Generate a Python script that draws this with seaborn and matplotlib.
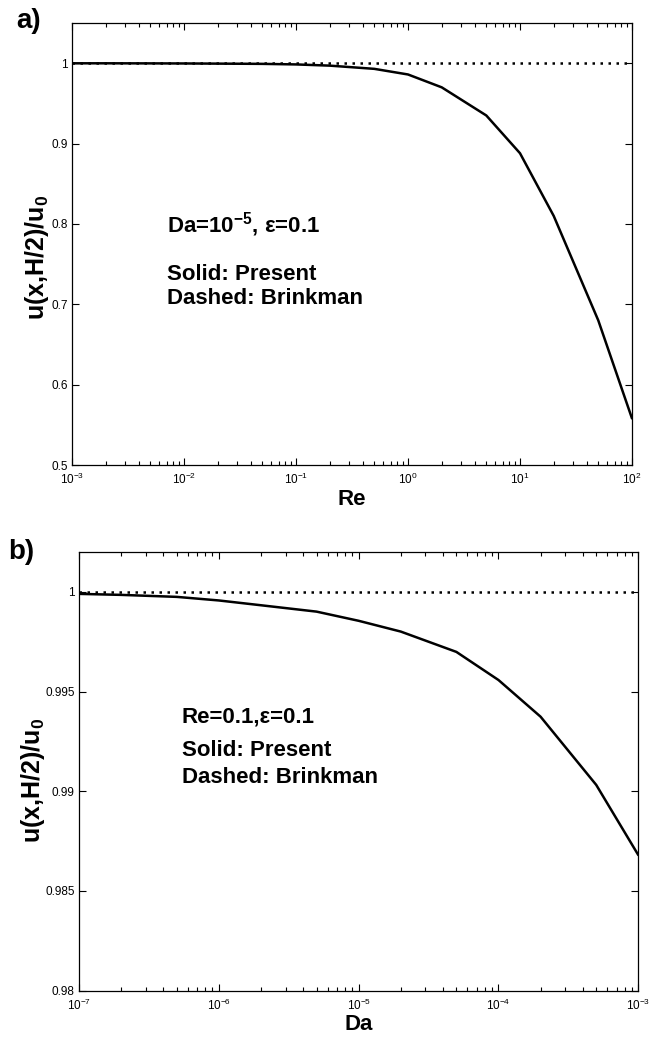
import numpy as np
import pandas as pd
import matplotlib
matplotlib.use("Agg")
import matplotlib.pyplot as plt
import matplotlib.ticker as mticker
import seaborn as sns

# ---------------- data ----------------
re_vals = [1e-3, 2e-3, 5e-3, 1e-2, 2e-2, 5e-2, 1e-1, 2e-1, 5e-1, 1, 2, 5, 10, 20, 50, 100]
u_present_a = [0.9999, 0.9999, 0.9998, 0.9997, 0.9995, 0.9992, 0.9985, 0.9970, 0.9930,
               0.9860, 0.9700, 0.9350, 0.8880, 0.8100, 0.6800, 0.5580]
u_brinkman_a = [1.0, 1.0, 1.0, 1.0, 1.0, 1.0, 1.0, 1.0, 1.0, 1.0, 1.0, 1.0, 1.0, 1.0, 1.0, 1.0]

da_vals = [1e-7, 2e-7, 5e-7, 1e-6, 2e-6, 5e-6, 1e-5, 2e-5, 5e-5, 1e-4, 2e-4, 5e-4, 1e-3]
u_present_b = [0.99990, 0.99985, 0.99975, 0.99957, 0.99933, 0.99901, 0.99855,
               0.99801, 0.99699, 0.99558, 0.99374, 0.99032, 0.98680]
u_brinkman_b = [1.0, 1.0, 1.0, 1.0, 1.0, 1.0, 1.0, 1.0, 1.0, 1.0, 1.0, 1.0, 1.0]

yticks_a = [0.5, 0.6, 0.7, 0.8, 0.9, 1.0]
yticklabels_a = ["0.5", "0.6", "0.7", "0.8", "0.9", "1"]
yticks_b = [0.98, 0.985, 0.99, 0.995, 1.0]
yticklabels_b = ["0.98", "0.985", "0.99", "0.995", "1"]

df_a = pd.DataFrame({"Re": re_vals + re_vals,
                     "u": u_present_a + u_brinkman_a,
                     "model": ["Present"] * len(re_vals) + ["Brinkman"] * len(re_vals)})
df_b = pd.DataFrame({"Da": da_vals + da_vals,
                     "u": u_present_b + u_brinkman_b,
                     "model": ["Present"] * len(da_vals) + ["Brinkman"] * len(da_vals)})

# ---------------- style ----------------
sns.set_theme(style="ticks")
plt.rcParams["font.family"] = ["Liberation Sans", "DejaVu Sans"]
plt.rcParams["mathtext.fontset"] = "custom"
plt.rcParams["mathtext.rm"] = "Liberation Sans"
plt.rcParams["mathtext.bf"] = "Liberation Sans:bold"
plt.rcParams["mathtext.it"] = "Liberation Sans:italic"
plt.rcParams["mathtext.default"] = "regular"
plt.rcParams["text.color"] = "black"
plt.rcParams["axes.labelcolor"] = "black"
plt.rcParams["xtick.color"] = "black"
plt.rcParams["ytick.color"] = "black"

fig = plt.figure(figsize=(6.67, 10.38), dpi=100)
ax1 = fig.add_axes([0.108, 0.552, 0.8395, 0.4258])
ax2 = fig.add_axes([0.1184, 0.0456, 0.8386, 0.4226])

palette = {"Present": "black", "Brinkman": "black"}
dashes = {"Present": "", "Brinkman": (1, 2.2)}


def style_axes(ax, xlim, ylim, yticks, yticklabels, xlabel):
    ax.set_xscale("log")
    ax.set_xlim(*xlim)
    ax.set_ylim(*ylim)
    ax.set_yticks(yticks)
    ax.set_yticklabels(yticklabels)
    ax.xaxis.set_major_locator(mticker.LogLocator(base=10, numticks=20))
    ax.xaxis.set_minor_locator(mticker.LogLocator(base=10, subs=np.arange(2, 10), numticks=20))
    ax.xaxis.set_minor_formatter(mticker.NullFormatter())
    ax.tick_params(which="both", direction="in", top=True, right=True,
                   labelsize=8.5, width=0.8, colors="black", pad=3)
    ax.tick_params(axis="x", which="major", pad=5)
    ax.tick_params(which="major", length=5)
    ax.tick_params(which="minor", length=3)
    for s in ax.spines.values():
        s.set_visible(True)
        s.set_linewidth(0.9)
        s.set_color("black")
    ax.set_xlabel(xlabel, fontsize=16, fontweight="bold", labelpad=1)


sns.lineplot(data=df_a, x="Re", y="u", hue="model", style="model",
             palette=palette, dashes=dashes, linewidth=1.8, ax=ax1, legend=False)
style_axes(ax1, (1e-3, 1e2), (0.5, 1.05), yticks_a, yticklabels_a, "Re")
ax1.set_ylabel(r"u(x,H/2)/u$_{\mathbf{0}}$", fontsize=18, fontweight="bold")
ax1.yaxis.set_label_coords(-0.038, 0.47)

sns.lineplot(data=df_b, x="Da", y="u", hue="model", style="model",
             palette=palette, dashes=dashes, linewidth=1.8, ax=ax2, legend=False)
style_axes(ax2, (1e-7, 1e-3), (0.98, 1.002), yticks_b, yticklabels_b, "Da")
ax2.set_ylabel(r"u(x,H/2)/u$_{\mathbf{0}}$", fontsize=18, fontweight="bold")
ax2.yaxis.set_label_coords(-0.058, 0.48)

# annotations
fig.text(0.025, 0.98, "a)", fontsize=20, fontweight="bold", va="center", ha="left")
fig.text(0.012, 0.468, "b)", fontsize=20, fontweight="bold", va="center", ha="left")

ax1.text(0.169, 0.545, r"Da=10$^{\mathbf{-5}}$, ε=0.1", transform=ax1.transAxes,
         fontsize=16, fontweight="bold", va="center", ha="left")
ax1.text(0.169, 0.432, "Solid: Present", transform=ax1.transAxes,
         fontsize=16, fontweight="bold", va="center", ha="left")
ax1.text(0.169, 0.377, "Dashed: Brinkman", transform=ax1.transAxes,
         fontsize=16, fontweight="bold", va="center", ha="left")

ax2.text(0.184, 0.623, "Re=0.1,ε=0.1", transform=ax2.transAxes,
         fontsize=16, fontweight="bold", va="center", ha="left")
ax2.text(0.184, 0.548, "Solid: Present", transform=ax2.transAxes,
         fontsize=16, fontweight="bold", va="center", ha="left")
ax2.text(0.184, 0.487, "Dashed: Brinkman", transform=ax2.transAxes,
         fontsize=16, fontweight="bold", va="center", ha="left")

fig.savefig("out.png", dpi=100, facecolor="white")
